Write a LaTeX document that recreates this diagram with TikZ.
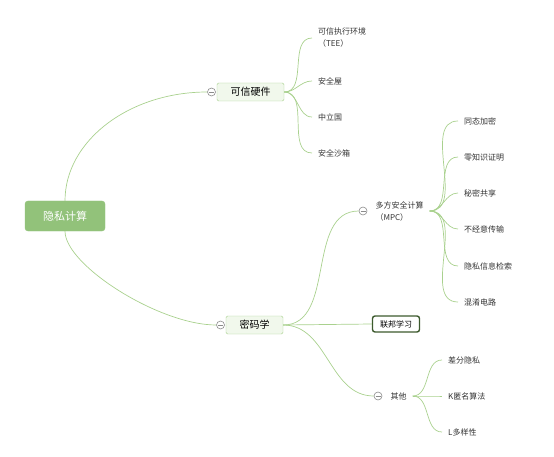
\documentclass[tikz,border=0pt]{standalone}
\usepackage{fontspec}
\setmainfont{Noto Sans CJK SC}
\usetikzlibrary{positioning}

\definecolor{branchgreen}{HTML}{A9D18E}
\definecolor{rootgreen}{HTML}{92C27A}
\definecolor{topicfill}{HTML}{F1F8EC}
\definecolor{fedgreen}{HTML}{3D5A2E}
\definecolor{leafgray}{HTML}{333333}
\definecolor{foldgray}{HTML}{8C8C8C}

\begin{document}
\begin{tikzpicture}[
  x=1pt,y=-1pt,
  root/.style={draw=rootgreen,fill=rootgreen,rounded corners=3pt,minimum width=80pt,
    minimum height=30pt,text=white,font=\fontsize{11}{13}\selectfont},
  topic/.style={draw=branchgreen,fill=topicfill,rounded corners=1.5pt,minimum width=67pt,
    minimum height=18pt,font=\fontsize{10}{12}\selectfont},
  fed/.style={draw=fedgreen,line width=1.4pt,fill=white,rounded corners=2.5pt,
    minimum width=47pt,minimum height=16pt,font=\fontsize{8}{10}\selectfont},
  leaf/.style={anchor=west,inner xsep=6pt,text=leafgray,align=left,
    font=\fontsize{8}{12}\selectfont},
  fold/.style={circle,draw=foldgray,fill=white,line width=0.6pt,minimum size=8pt,inner sep=0pt,
    path picture={\draw[foldgray,line width=0.6pt]
      ([xshift=-2.5pt]path picture bounding box.center) -- ([xshift=2.5pt]path picture bounding box.center);}},
  branch/.style={draw=branchgreen,line width=0.7pt}
]
  \useasboundingbox (0,0) rectangle (554,457);

  % main topics
  \node[root] (privacy) at (65,216) {隐私计算};
  \node[topic] (hardware) at (250.5,92) {可信硬件};
  \node[fold,left=1pt of hardware] (hwfold) {};
  \node[topic,minimum width=57pt] (crypto) at (254.5,325) {密码学};
  \node[fold,left=1pt of crypto] (cryptofold) {};

  % trusted hardware
  \node[leaf] (tee) at (312,38) {可信执行环境\\（TEE）};
  \node[leaf] (cabin) at (312,81) {安全屋};
  \node[leaf] (neutral) at (312,117) {中立国};
  \node[leaf] (sandbox) at (312,153) {安全沙箱};

  % cryptography
  \node[fold] (mpcfold) at (363,211) {};
  \node[leaf,right=2pt of mpcfold] (mpc) {多方安全计算\\（MPC）};
  \node[fed] (federated) at (396,324) {联邦学习};
  \node[fold] (otherfold) at (378,396) {};
  \node[leaf,right=2pt of otherfold] (other) {其他};

  \node[leaf] (homo) at (458,121) {同态加密};
  \node[leaf] (zkp) at (458,157) {零知识证明};
  \node[leaf] (share) at (458,193) {秘密共享};
  \node[leaf] (ot) at (458,229) {不经意传输};
  \node[leaf] (pir) at (458,266) {隐私信息检索};
  \node[leaf] (garble) at (458,302) {混淆电路};

  \node[leaf] (dp) at (442,360) {差分隐私};
  \node[leaf] (kanon) at (442,396) {K匿名算法};
  \node[leaf] (ldiv) at (442,432) {L多样性};

  % connectors
  \draw[branch] (privacy.north) .. controls +(0,-60) and +(-78,0) .. (hwfold.west);
  \draw[branch] (privacy.south) .. controls +(0,34) and +(-57,0) .. (cryptofold.west);

  \draw[branch] (hardware.east) to[out=0,in=180] (tee.west);
  \draw[branch] (hardware.east) to[out=0,in=180] (cabin.west);
  \draw[branch] (hardware.east) to[out=0,in=180] (neutral.west);
  \draw[branch] (hardware.east) to[out=0,in=180] (sandbox.west);

  \draw[branch] (crypto.east) to[out=0,in=180] (mpcfold.west);
  \draw[branch] (crypto.east) -- (federated.west);
  \draw[branch] (crypto.east) to[out=0,in=180] (otherfold.west);

  \draw[branch] (mpc.east) to[out=0,in=180] (homo.west);
  \draw[branch] (mpc.east) to[out=0,in=180] (zkp.west);
  \draw[branch] (mpc.east) to[out=0,in=180] (share.west);
  \draw[branch] (mpc.east) to[out=0,in=180] (ot.west);
  \draw[branch] (mpc.east) to[out=0,in=180] (pir.west);
  \draw[branch] (mpc.east) to[out=0,in=180] (garble.west);

  \draw[branch] (other.east) to[out=0,in=180] (dp.west);
  \draw[branch] (other.east) to[out=0,in=180] (kanon.west);
  \draw[branch] (other.east) to[out=0,in=180] (ldiv.west);
\end{tikzpicture}
\end{document}
